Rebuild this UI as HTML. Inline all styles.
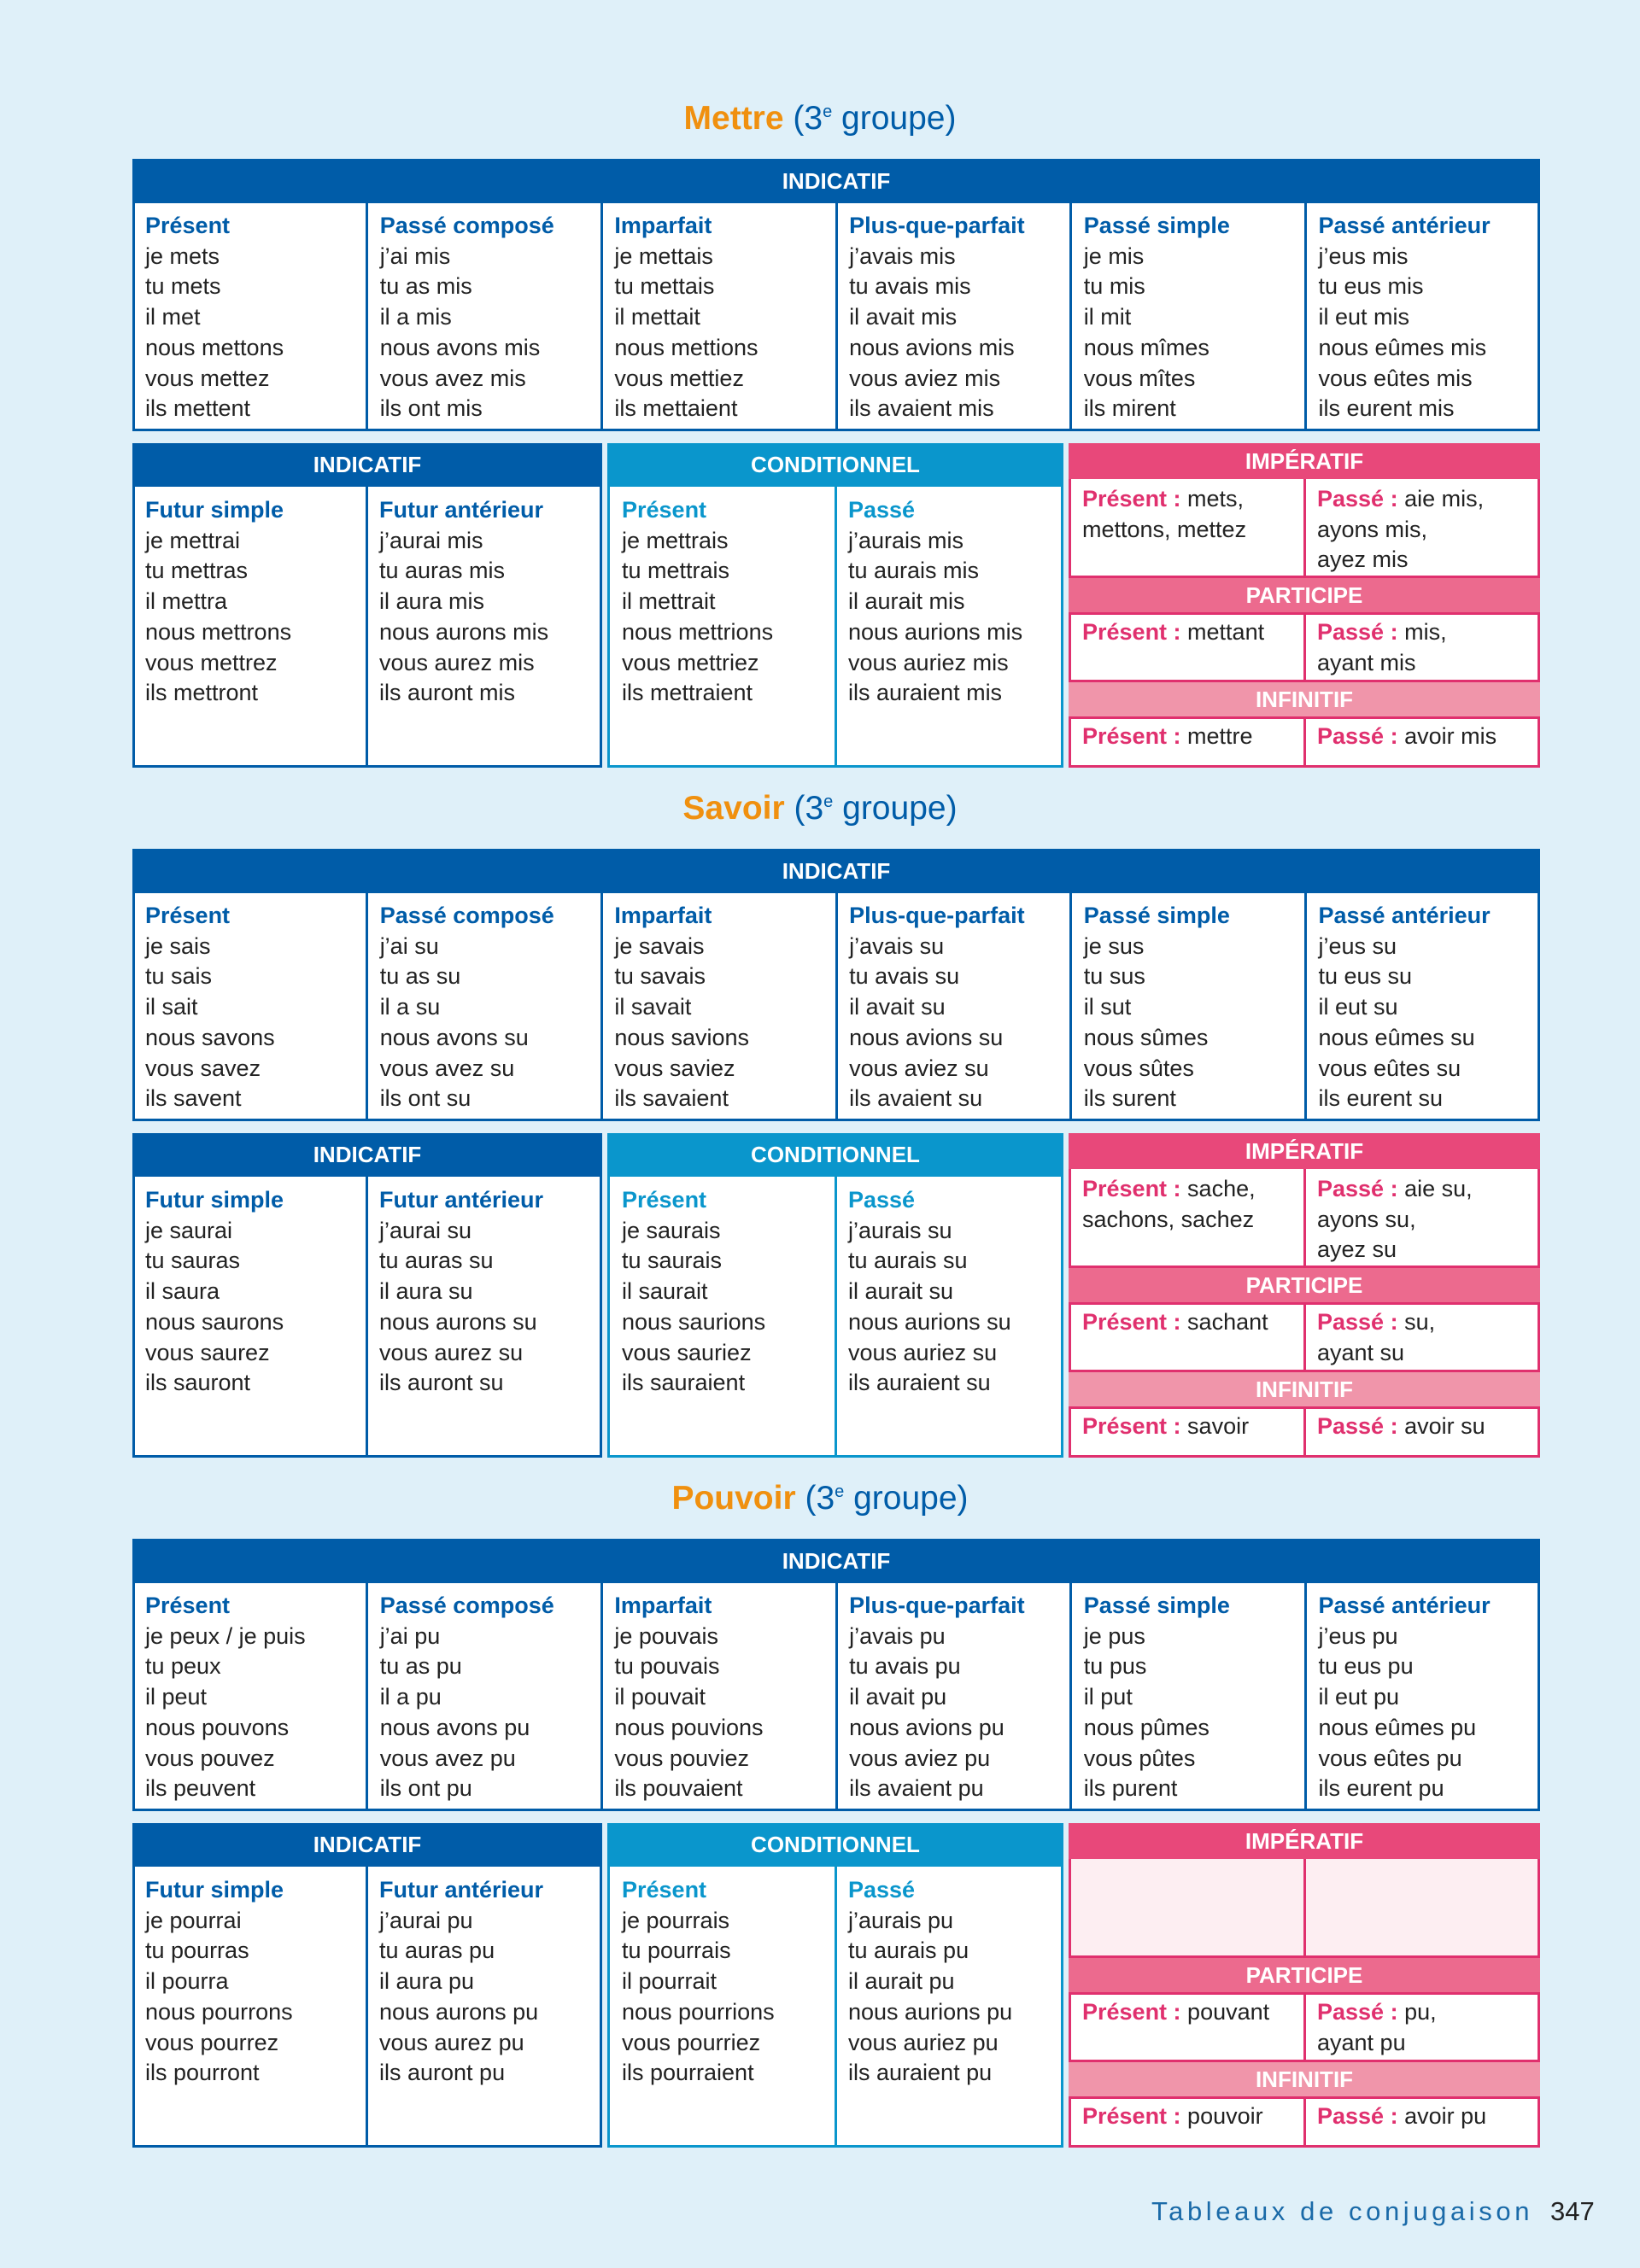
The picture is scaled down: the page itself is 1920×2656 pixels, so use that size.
<!DOCTYPE html>
<html><head><meta charset="utf-8">
<style>
*{margin:0;padding:0;box-sizing:border-box}
body{width:1920px;height:2656px;background:#dff0f9;position:relative;overflow:hidden;font-family:"Liberation Sans",sans-serif;color:#222}
.a{position:absolute}
.hd{position:absolute;color:#fff;font-weight:bold;font-size:26px;text-align:center}
.tx{position:absolute;font-size:27px;line-height:35.7px;white-space:nowrap}
.b{color:#005ca8;font-weight:bold}
.lb{color:#0a96cc;font-weight:bold}
.p{color:#e0306e;font-weight:bold}
.title{position:absolute;left:0;width:1920px;text-align:center;font-size:39px;color:#005ca8}
.title b{color:#f0900f}
</style></head><body>
<div id="root"></div>
<script>
var D=[
{name:"Mettre",top:[
["Présent","je mets","tu mets","il met","nous mettons","vous mettez","ils mettent"],
["Passé composé","j’ai mis","tu as mis","il a mis","nous avons mis","vous avez mis","ils ont mis"],
["Imparfait","je mettais","tu mettais","il mettait","nous mettions","vous mettiez","ils mettaient"],
["Plus-que-parfait","j’avais mis","tu avais mis","il avait mis","nous avions mis","vous aviez mis","ils avaient mis"],
["Passé simple","je mis","tu mis","il mit","nous mîmes","vous mîtes","ils mirent"],
["Passé antérieur","j’eus mis","tu eus mis","il eut mis","nous eûmes mis","vous eûtes mis","ils eurent mis"]],
fut:[["Futur simple","je mettrai","tu mettras","il mettra","nous mettrons","vous mettrez","ils mettront"],
["Futur antérieur","j’aurai mis","tu auras mis","il aura mis","nous aurons mis","vous aurez mis","ils auront mis"]],
cond:[["Présent","je mettrais","tu mettrais","il mettrait","nous mettrions","vous mettriez","ils mettraient"],
["Passé","j’aurais mis","tu aurais mis","il aurait mis","nous aurions mis","vous auriez mis","ils auraient mis"]],
imp:[["mets,","mettons, mettez"],["aie mis,","ayons mis,","ayez mis"]],
part:[["mettant"],["mis,","ayant mis"]],inf:["mettre","avoir mis"]},
{name:"Savoir",top:[
["Présent","je sais","tu sais","il sait","nous savons","vous savez","ils savent"],
["Passé composé","j’ai su","tu as su","il a su","nous avons su","vous avez su","ils ont su"],
["Imparfait","je savais","tu savais","il savait","nous savions","vous saviez","ils savaient"],
["Plus-que-parfait","j’avais su","tu avais su","il avait su","nous avions su","vous aviez su","ils avaient su"],
["Passé simple","je sus","tu sus","il sut","nous sûmes","vous sûtes","ils surent"],
["Passé antérieur","j’eus su","tu eus su","il eut su","nous eûmes su","vous eûtes su","ils eurent su"]],
fut:[["Futur simple","je saurai","tu sauras","il saura","nous saurons","vous saurez","ils sauront"],
["Futur antérieur","j’aurai su","tu auras su","il aura su","nous aurons su","vous aurez su","ils auront su"]],
cond:[["Présent","je saurais","tu saurais","il saurait","nous saurions","vous sauriez","ils sauraient"],
["Passé","j’aurais su","tu aurais su","il aurait su","nous aurions su","vous auriez su","ils auraient su"]],
imp:[["sache,","sachons, sachez"],["aie su,","ayons su,","ayez su"]],
part:[["sachant"],["su,","ayant su"]],inf:["savoir","avoir su"]},
{name:"Pouvoir",top:[
["Présent","je peux / je puis","tu peux","il peut","nous pouvons","vous pouvez","ils peuvent"],
["Passé composé","j’ai pu","tu as pu","il a pu","nous avons pu","vous avez pu","ils ont pu"],
["Imparfait","je pouvais","tu pouvais","il pouvait","nous pouvions","vous pouviez","ils pouvaient"],
["Plus-que-parfait","j’avais pu","tu avais pu","il avait pu","nous avions pu","vous aviez pu","ils avaient pu"],
["Passé simple","je pus","tu pus","il put","nous pûmes","vous pûtes","ils purent"],
["Passé antérieur","j’eus pu","tu eus pu","il eut pu","nous eûmes pu","vous eûtes pu","ils eurent pu"]],
fut:[["Futur simple","je pourrai","tu pourras","il pourra","nous pourrons","vous pourrez","ils pourront"],
["Futur antérieur","j’aurai pu","tu auras pu","il aura pu","nous aurons pu","vous aurez pu","ils auront pu"]],
cond:[["Présent","je pourrais","tu pourrais","il pourrait","nous pourrions","vous pourriez","ils pourraient"],
["Passé","j’aurais pu","tu aurais pu","il aurait pu","nous aurions pu","vous auriez pu","ils auraient pu"]],
imp:null,part:[["pouvant"],["pu,","ayant pu"]],inf:["pouvoir","avoir pu"]}];
var h="";
function box(x,y,w,hh,bc,bg){h+='<div class="a" style="left:'+x+'px;top:'+y+'px;width:'+w+'px;height:'+hh+'px;background:'+(bg||'#fff')+';border:3px solid '+bc+'"></div>';}
function rect(x,y,w,hh,bg){h+='<div class="a" style="left:'+x+'px;top:'+y+'px;width:'+w+'px;height:'+hh+'px;background:'+bg+'"></div>';}
function hd(x,y,w,hh,t){h+='<div class="hd" style="left:'+x+'px;top:'+y+'px;width:'+w+'px;height:'+hh+'px;line-height:'+hh+'px">'+t+'</div>';}
function col(x,y,arr,cls){var s='<div class="tx" style="left:'+x+'px;top:'+y+'px"><span class="'+cls+'">'+arr[0]+'</span>';for(var i=1;i<arr.length;i++)s+='<br>'+arr[i];h+=s+'</div>';}
function pk(x,y,lab,arr){var s='<div class="tx" style="left:'+x+'px;top:'+y+'px"><span class="p">'+lab+' : </span>'+arr[0];for(var i=1;i<arr.length;i++)s+='<br>'+arr[i];h+=s+'</div>';}
var DB="#005ca8",LB="#0a96cc",PK="#e0306e";
D.forEach(function(d,k){
 var T=186+k*808;
 h+='<div class="title" style="top:'+(T-69)+'px"><b>'+d.name+'</b> (3<sup style="font-size:20px">e</sup> groupe)</div>';
 box(155,T,1648,319,DB);rect(155,T,1648,52,DB);hd(155,T,1648,52,"INDICATIF");
 for(var c=1;c<6;c++)rect(155+c*274.7-1.5,T+50,3,269,DB);
 for(c=0;c<6;c++)col(170+c*274.7,T+61,d.top[c],"b");
 var U=T+333;
 box(155,U,550,380,DB);rect(155,U,550,51,DB);hd(155,U,550,51,"INDICATIF");
 rect(428,U+50,3,330,DB);col(170,U+61,d.fut[0],"b");col(444,U+61,d.fut[1],"b");
 box(711,U,534,380,LB);rect(711,U,534,51,LB);hd(711,U,534,51,"CONDITIONNEL");
 rect(977,U+50,3,330,LB);col(728,U+61,d.cond[0],"lb");col(993,U+61,d.cond[1],"lb");
 box(1251,U,552,380,PK);
 rect(1251,U,552,42,"#e8487a");hd(1251,U,552,42,"IMPÉRATIF");
 if(!d.imp)rect(1254,U+42,546,114,"#fdeef2");
 rect(1251,U+156,552,44,"#ec6a8e");hd(1251,U+156,552,44,"PARTICIPE");
 rect(1251,U+278,552,44,"#f095aa");hd(1251,U+278,552,44,"INFINITIF");
 rect(1251,U+155,552,3,PK);rect(1251,U+198,552,3,PK);rect(1251,U+277,552,3,PK);rect(1251,U+320,552,3,PK);
 rect(1526,U+42,3,114,PK);rect(1526,U+200,3,78,PK);rect(1526,U+322,3,58,PK);
 if(d.imp){pk(1267,U+48,"Présent",d.imp[0]);pk(1542,U+48,"Passé",d.imp[1]);}
 pk(1267,U+204,"Présent",d.part[0]);pk(1542,U+204,"Passé",d.part[1]);
 pk(1267,U+326,"Présent",[d.inf[0]]);pk(1542,U+326,"Passé",[d.inf[1]]);
});
h+='<div class="a" style="left:1348px;top:2572px;font-size:31px;letter-spacing:4.6px;color:#1a6aa8">Tableaux de conjugaison</div>';
h+='<div class="a" style="left:1815px;top:2572px;font-size:31px;color:#222">347</div>';
document.getElementById("root").innerHTML=h;
</script>
</body></html>
